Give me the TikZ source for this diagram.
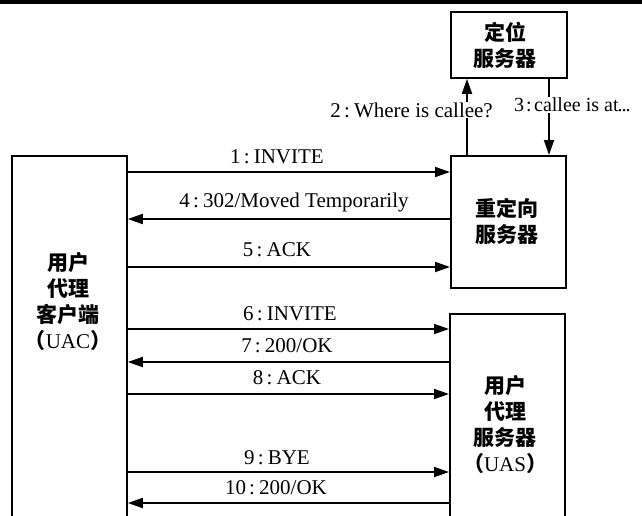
\documentclass[tikz,border=0pt]{standalone}
\usepackage{fontspec}
\setmainfont{Liberation Serif}
\newfontfamily\cjk{Noto Sans CJK SC}
\usetikzlibrary{arrows.meta}
\newcommand\mycolon{\hspace{0.15em}:\hspace{0.2em}}
\begin{document}
\begin{tikzpicture}[x=1pt,y=-1pt,
  box/.style={draw, line width=1.8pt, inner sep=0pt},
  msg/.style={line width=1.8pt, -{Triangle[length=15pt,width=10pt]}},
  lbl/.style={font=\fontsize{21}{25}\selectfont, inner sep=1pt},
  zh/.style={font=\fontsize{21}{26}\selectfont\cjk\bfseries, align=center, inner sep=0pt},
]
\clip (0,0) rectangle (642,515);
\draw[line width=4pt] (0,2) -- (642,2);

% boxes
\node[box, anchor=north west, minimum width=115pt, minimum height=400pt] (uac) at (11,155) {};
\node[box, anchor=north west, minimum width=115pt, minimum height=132pt] (redir) at (450,155) {};
\node[box, anchor=north west, minimum width=116pt, minimum height=66pt] (loc) at (450,11) {};
\node[box, anchor=north west, minimum width=115pt, minimum height=240pt] (uas) at (449,313) {};

% box texts
\node[zh] (loct) at (505,45.5) {定位\\服务器};
\node[zh] (redirt) at (507,221.5) {重定向\\服务器};
\node[zh] (uact) at (68,301.5) {用户\\代理\\客户端\\（{\rmfamily\mdseries UAC}）};
\node[zh] (uast) at (505,425) {用户\\代理\\服务器\\（{\rmfamily\mdseries UAS}）};

% messages
\draw[msg] (uac.east |- 0,172) -- (redir.west |- 0,172);
\draw[msg] (redir.west |- 0,219) -- (uac.east |- 0,219);
\draw[msg] (uac.east |- 0,267) -- (redir.west |- 0,267);
\draw[msg] (uac.east |- 0,329) -- (uas.west |- 0,329);
\draw[msg] (uas.west |- 0,362) -- (uac.east |- 0,362);
\draw[msg] (uac.east |- 0,394) -- (uas.west |- 0,394);
\draw[msg] (uac.east |- 0,472) -- (uas.west |- 0,472);
\draw[msg] (uas.west |- 0,503) -- (uac.east |- 0,503);
\draw[msg] (redir.north -| 467,0) -- (loc.south -| 467,0);
\draw[msg] (loc.south -| 549,0) -- (redir.north -| 549,0);

% labels
\node[lbl] (l1) at (277,157) {1\mycolon INVITE};
\node[lbl] (l4) at (294,202) {4\mycolon 302/Moved Temporarily};
\node[lbl] (l5) at (277,250) {5\mycolon ACK};
\node[lbl] (l6) at (290,314) {6\mycolon INVITE};
\node[lbl] (l7) at (287,346) {7\mycolon 200/OK};
\node[lbl] (l8) at (287,378) {8\mycolon ACK};
\node[lbl] (l9) at (277,458) {9\mycolon BYE};
\node[lbl] (l10) at (276,488) {10\mycolon 200/OK};
\node[lbl, fill=white, anchor=east] (l2) at (494,110) {2\mycolon Where is callee?};
\node[lbl, font=\fontsize{20}{24}\selectfont, fill=white, anchor=west, inner xsep=0pt] (l3) at (514,105) {3\hspace{0.1em}:\hspace{0.12em}callee is at\kern-0.05em.\kern-0.05em.\kern-0.05em.};
\end{tikzpicture}
\end{document}
